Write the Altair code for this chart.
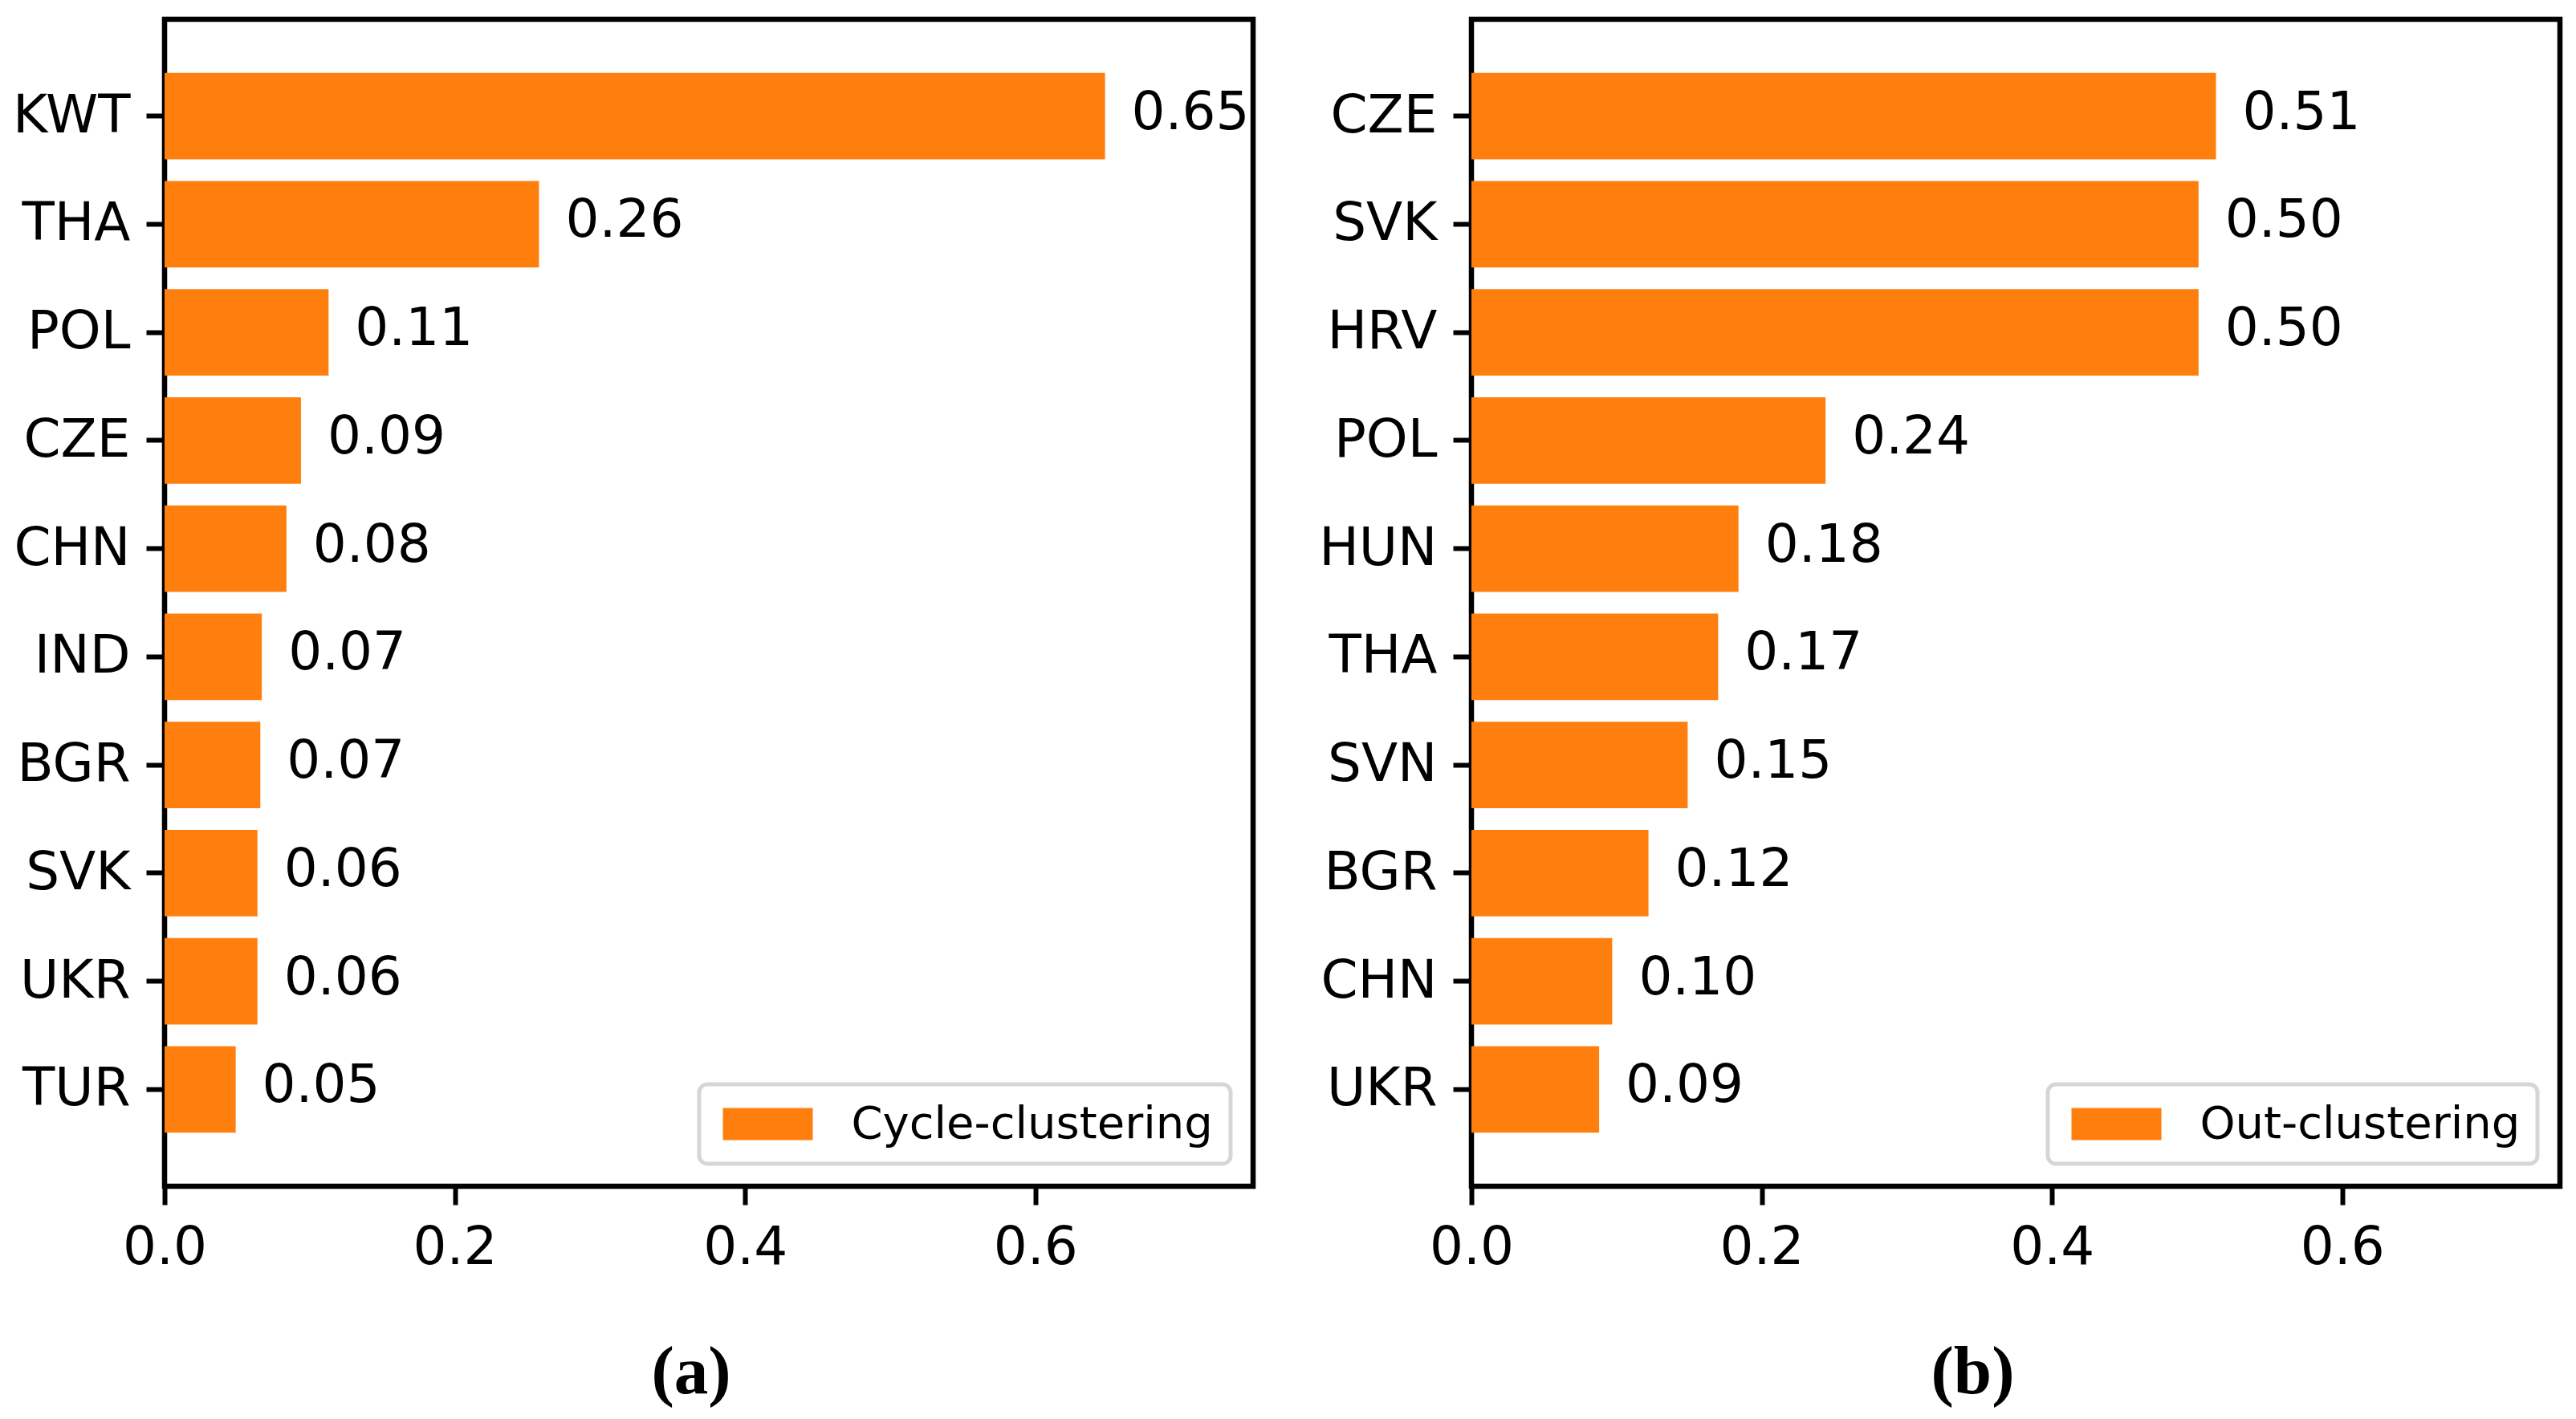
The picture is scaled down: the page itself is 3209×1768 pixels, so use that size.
import altair as alt
import pandas as pd

# Panel (a): cycle-clustering
cats_a = ["KWT", "THA", "POL", "CZE", "CHN", "IND", "BGR", "SVK", "UKR", "TUR"]
vals_a = [0.648, 0.258, 0.113, 0.094, 0.084, 0.067, 0.066, 0.064, 0.064, 0.049]
series_a = "Cycle-clustering"

# Panel (b): out-clustering
cats_b = ["CZE", "SVK", "HRV", "POL", "HUN", "THA", "SVN", "BGR", "CHN", "UKR"]
vals_b = [0.513, 0.501, 0.501, 0.244, 0.184, 0.170, 0.149, 0.122, 0.097, 0.088]
series_b = "Out-clustering"

ticks_x = [0.0, 0.2, 0.4, 0.6]
ORANGE = "#ff7f0e"


def panel(cats, vals, series, caption, caption_x):
    df = pd.DataFrame({"country": cats, "value": vals, "series": [series] * len(cats)})
    base = alt.Chart(df)
    y_enc = alt.Y(
        "country:N",
        sort=None,
        scale=alt.Scale(paddingInner=0.2, paddingOuter=0.495),
        axis=alt.Axis(
            title=None,
            labelFontSize=66,
            labelFont="DejaVu Sans",
            labelColor="black",
            labelPadding=20,
            tickSize=23,
            tickWidth=6,
            tickColor="black",
            domain=False,
            grid=False,
        ),
    )
    x_enc = alt.X(
        "value:Q",
        scale=alt.Scale(domain=[0, 0.75], nice=False, zero=True),
        axis=alt.Axis(
            values=ticks_x,
            format=".1f",
            labelFontSize=66,
            labelFont="DejaVu Sans",
            labelColor="black",
            labelPadding=21,
            labelFlush=False,
            tickSize=23,
            tickWidth=6,
            tickColor="black",
            domain=False,
            grid=False,
            title=caption,
            titleFont="Liberation Serif",
            titleFontSize=85,
            titleFontWeight="bold",
            titleColor="black",
            titleX=caption_x,
            titleY=257.5,
            titleAlign="center",
            titleBaseline="alphabetic",
        ),
    )
    bars = base.mark_bar().encode(
        x=x_enc,
        y=y_enc,
        fill=alt.Fill(
            "series:N",
            scale=alt.Scale(domain=[series], range=[ORANGE]),
            legend=alt.Legend(
                title=None,
                orient="bottom-right",
                offset=28,
                symbolType="M-1,-1H4.6V1H-1Z",
                symbolSize=1600,
                symbolStrokeWidth=0,
                symbolOpacity=1,
                labelFontSize=56,
                labelFont="DejaVu Sans",
                labelColor="black",
                labelOffset=112,
                labelLimit=2000,
                padding=21.5,
                strokeColor="#d6d6d6",
                cornerRadius=10,
                fillColor="white",
            ),
        ),
    )
    text = base.mark_text(
        align="left",
        baseline="middle",
        dx=33,
        dy=-4,
        fontSize=66,
        font="DejaVu Sans",
        color="black",
    ).encode(
        x=alt.X("value:Q"),
        y=alt.Y("country:N", sort=None),
        text=alt.Text("value:Q", format=".2f"),
    )
    return alt.layer(bars, text).properties(width=1356, height=1454)


pa = panel(cats_a, vals_a, series_a, "(a)", 655.5)
pb = panel(cats_b, vals_b, series_b, "(b)", 624)

chart = (
    alt.hconcat(pa, pb, spacing=74)
    .resolve_scale(x="independent", y="independent", fill="independent")
    .resolve_legend(fill="independent")
    .properties(padding={"left": 4, "top": 12, "right": 0, "bottom": 0})
    .configure(font="DejaVu Sans", background="white")
    .configure_view(stroke="black", strokeWidth=6.5)
    .configure_legend(strokeWidth=5)
)

chart.save("out.html", embed_options={"renderer": "svg", "actions": False})
